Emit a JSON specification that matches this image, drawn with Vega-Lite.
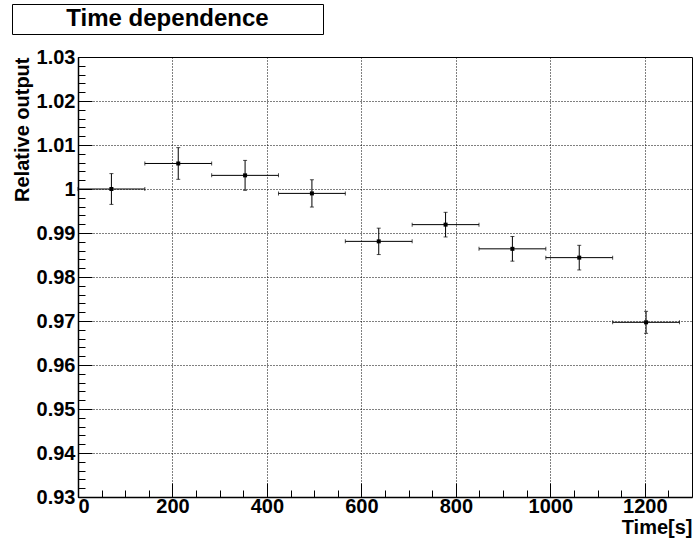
{
  "$schema": "https://vega.github.io/schema/vega-lite/v6.json",
  "padding": {"left": 11, "top": 3, "right": 0, "bottom": 0},
  "config": {"font": "Liberation Sans", "view": {"stroke": "black", "strokeWidth": 1}},
  "spacing": 11,
  "vconcat": [
    {
      "width": 311,
      "height": 30,
      "view": {"stroke": "black", "strokeWidth": 1},
      "data": {"values": [{"label": "Time dependence"}]},
      "mark": {"type": "text", "fontSize": 24, "fontWeight": "bold", "font": "Liberation Sans", "color": "black", "baseline": "middle", "align": "center"},
      "encoding": {
        "text": {"field": "label", "type": "nominal"},
        "x": {"datum": 0.5, "type": "quantitative", "scale": {"domain": [0, 1]}, "axis": null},
        "y": {"datum": 0.5, "type": "quantitative", "scale": {"domain": [0, 1]}, "axis": null}
      }
    },
    {
      "spacing": -2,
      "hconcat": [
        {
          "width": 1,
          "height": 440,
          "view": {"stroke": null},
          "data": {"values": []},
          "mark": "point"
        },
        {
          "width": 614,
          "height": 440,
          "data": {
            "values": [
              {"t": 70.75, "xlo": 0, "xhi": 141.5, "y": 1.0, "ylo": 0.9965, "yhi": 1.0035},
              {"t": 212.25, "xlo": 141.5, "xhi": 283, "y": 1.0058, "ylo": 1.0022, "yhi": 1.0094},
              {"t": 353.75, "xlo": 283, "xhi": 424.5, "y": 1.0031, "ylo": 0.9997, "yhi": 1.0065},
              {"t": 495.25, "xlo": 424.5, "xhi": 566, "y": 0.999, "ylo": 0.9959, "yhi": 1.0021},
              {"t": 636.75, "xlo": 566, "xhi": 707.5, "y": 0.9881, "ylo": 0.9851, "yhi": 0.9911},
              {"t": 778.25, "xlo": 707.5, "xhi": 849, "y": 0.9919, "ylo": 0.9891, "yhi": 0.9947},
              {"t": 919.75, "xlo": 849, "xhi": 990.5, "y": 0.9864, "ylo": 0.9836, "yhi": 0.9892},
              {"t": 1061.25, "xlo": 990.5, "xhi": 1132, "y": 0.9844, "ylo": 0.9816, "yhi": 0.9872},
              {"t": 1202.75, "xlo": 1132, "xhi": 1273.5, "y": 0.9697, "ylo": 0.9672, "yhi": 0.9722}
            ]
          },
          "resolve": {"axis": {"x": "independent", "y": "independent"}},
          "layer": [
            {
              "mark": {"type": "rule", "color": "black", "strokeWidth": 1},
              "encoding": {
                "x": {
                  "field": "xlo", "type": "quantitative",
                  "scale": {"domain": [0, 1300], "nice": false, "zero": false},
                  "axis": {
                    "orient": "bottom",
                    "values": [0, 200, 400, 600, 800, 1000, 1200],
                    "format": "d",
                    "title": "Time[s]",
                    "titleAnchor": "end",
                    "titleFontSize": 20,
                    "titleFontWeight": "bold",
                    "titleColor": "black",
                    "titlePadding": 1,
                    "labelFontSize": 20,
                    "labelFontWeight": "bold",
                    "labelColor": "black",
                    "labelFlush": true,
                    "labelOverlap": false,
                    "labelPadding": 13,
                    "tickColor": "black",
                    "tickSize": -14,
                    "grid": true,
                    "gridColor": "black",
                    "gridDash": [1, 2],
                    "domainColor": "black",
                    "domainWidth": 1.5
                  }
                },
                "x2": {"field": "xhi"},
                "y": {
                  "field": "y", "type": "quantitative",
                  "scale": {"domain": [0.93, 1.03], "nice": false, "zero": false},
                  "axis": {
                    "orient": "left",
                    "values": [0.93, 0.94, 0.95, 0.96, 0.97, 0.98, 0.99, 1, 1.01, 1.02, 1.03],
                    "format": ".2~f",
                    "title": "Relative output",
                    "titleAnchor": "end",
                    "titleFontSize": 20,
                    "titleFontWeight": "bold",
                    "titleColor": "black",
                    "titlePadding": 4,
                    "labelFontSize": 20,
                    "labelFontWeight": "bold",
                    "labelColor": "black",
                    "labelFlush": false,
                    "labelOverlap": false,
                    "labelPadding": 17,
                    "tickColor": "black",
                    "tickSize": -14,
                    "grid": true,
                    "gridColor": "black",
                    "gridDash": [1, 2],
                    "domainColor": "black",
                    "domainWidth": 1.5
                  }
                }
              }
            },
            {
              "mark": {"type": "rule", "color": "black", "strokeWidth": 1},
              "encoding": {
                "x": {
                  "field": "t", "type": "quantitative",
                  "axis": {
                    "orient": "bottom",
                    "values": [50, 100, 150, 250, 300, 350, 450, 500, 550, 650, 700, 750, 850, 900, 950, 1050, 1100, 1150, 1250],
                    "labels": false,
                    "title": null,
                    "grid": false,
                    "domain": false,
                    "tickColor": "black",
                    "tickSize": -7
                  }
                },
                "y": {
                  "field": "ylo", "type": "quantitative",
                  "axis": {
                    "orient": "left",
                    "values": [0.932,0.934,0.936,0.938,0.942,0.944,0.946,0.948,0.952,0.954,0.956,0.958,0.962,0.964,0.966,0.968,0.972,0.974,0.976,0.978,0.982,0.984,0.986,0.988,0.992,0.994,0.996,0.998,1.002,1.004,1.006,1.008,1.012,1.014,1.016,1.018,1.022,1.024,1.026,1.028],
                    "labels": false,
                    "title": null,
                    "grid": false,
                    "domain": false,
                    "tickColor": "black",
                    "tickSize": -7
                  }
                },
                "y2": {"field": "yhi"}
              }
            },
            {
              "mark": {"type": "tick", "orient": "horizontal", "color": "black", "size": 4, "thickness": 1},
              "encoding": {
                "x": {"field": "t", "type": "quantitative", "axis": null},
                "y": {"field": "ylo", "type": "quantitative", "axis": null}
              }
            },
            {
              "mark": {"type": "tick", "orient": "horizontal", "color": "black", "size": 4, "thickness": 1},
              "encoding": {
                "x": {"field": "t", "type": "quantitative", "axis": null},
                "y": {"field": "yhi", "type": "quantitative", "axis": null}
              }
            },
            {
              "mark": {"type": "tick", "orient": "vertical", "color": "black", "size": 4, "thickness": 1},
              "encoding": {
                "x": {"field": "xlo", "type": "quantitative", "axis": null},
                "y": {"field": "y", "type": "quantitative", "axis": null}
              }
            },
            {
              "mark": {"type": "tick", "orient": "vertical", "color": "black", "size": 4, "thickness": 1},
              "encoding": {
                "x": {"field": "xhi", "type": "quantitative", "axis": null},
                "y": {"field": "y", "type": "quantitative", "axis": null}
              }
            },
            {
              "mark": {"type": "point", "shape": "square", "filled": true, "color": "black", "size": 16, "opacity": 1},
              "encoding": {
                "x": {"field": "t", "type": "quantitative", "axis": null},
                "y": {"field": "y", "type": "quantitative", "axis": null}
              }
            }
          ]
        }
      ]
    }
  ]
}
